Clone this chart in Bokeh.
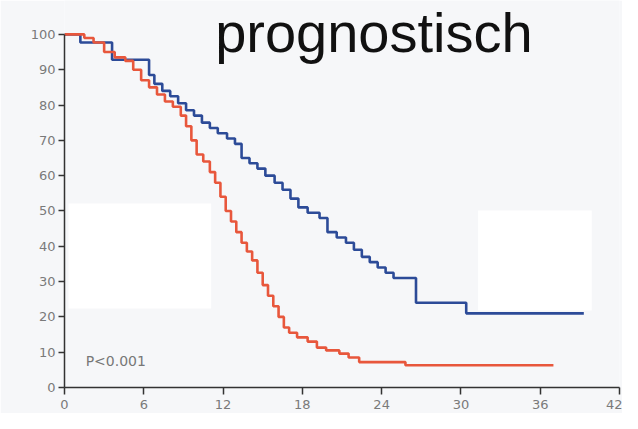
from bokeh.plotting import figure
from bokeh.models import Range1d, Label, BoxAnnotation, FixedTicker
from bokeh.embed import file_html
from bokeh.resources import INLINE

# --- data (months, % surviving) ---
blue_t = [0, 1.2, 3.6, 6.4, 6.8, 7.4, 8.0, 8.6, 9.2, 9.8, 10.4, 11.0, 11.6, 12.3, 12.9,
          13.4, 14.0, 14.6, 15.2, 15.9, 16.5, 17.1, 17.7, 18.4, 19.3, 19.9, 20.6, 21.3,
          21.9, 22.5, 23.1, 23.7, 24.3, 24.9, 26.6, 30.4, 39.3]
blue_s = [100, 97.7, 92.8, 88.5, 86, 84, 82.5, 80.5, 78.5, 77, 75, 73.5, 72, 70.5, 69,
          65, 63.5, 62, 60, 58, 56, 53.5, 51, 49.5, 48, 44, 42.5, 41,
          39, 37, 35.5, 34, 32.5, 31, 24, 21, 21]

red_t = [0, 1.5, 2.2, 3.0, 3.8, 4.6, 5.2, 5.8, 6.4, 7.0, 7.6, 8.2, 8.8, 9.2, 9.6, 10.0,
         10.5, 11.0, 11.4, 11.8, 12.2, 12.6, 13.0, 13.4, 13.8, 14.2, 14.6, 15.0, 15.4,
         15.8, 16.2, 16.6, 17.0, 17.6, 18.4, 19.1, 19.8, 20.8, 21.5, 22.3, 25.8, 37.0]
red_s = [100, 99, 97.7, 95, 93.5, 92.5, 90, 87, 85, 83, 81, 79.5, 77, 74, 70, 66,
         64, 61, 58, 54, 50, 47, 44, 41, 38.5, 36, 32.5, 29, 26,
         23, 20, 17, 15.5, 14.2, 13, 11.3, 10.5, 9.6, 8.5, 7.2, 6.3, 6.3]

x_ticks = [0, 6, 12, 18, 24, 30, 36, 42]
y_ticks = [0, 10, 20, 30, 40, 50, 60, 70, 80, 90, 100]

title_text = "prognostisch"
p_text = "P<0.001"

BG = "#f6f7f9"

p = figure(width=622, height=413, output_backend="svg", toolbar_location=None,
           x_range=Range1d(0, 42), y_range=Range1d(0, 109.6),
           min_border_left=64, min_border_right=3, min_border_top=0, min_border_bottom=26)
p.background_fill_color = BG
p.border_fill_color = BG
p.outline_line_color = None
p.xgrid.visible = False
p.ygrid.visible = False

# white patches behind the curves
for l, r, b, t in [(0.3, 11.1, 22.4, 52.1), (31.3, 39.9, 21.8, 50.1)]:
    p.add_layout(BoxAnnotation(left=l, right=r, bottom=b, top=t, fill_color="white",
                               fill_alpha=1, line_color=None, level="underlay"))

p.step(blue_t, blue_s, mode="after", line_color="#2c4b98", line_width=2.6)
p.step(red_t, red_s, mode="after", line_color="#e8573c", line_width=2.6)

for ax, ticks in ((p.xaxis, x_ticks), (p.yaxis, y_ticks)):
    ax.ticker = FixedTicker(ticks=ticks)
    ax.axis_line_color = "#333333"
    ax.axis_line_width = 1.5
    ax.major_tick_line_color = "#333333"
    ax.major_tick_line_width = 1.5
    ax.major_tick_out = 6
    ax.major_tick_in = 0
    ax.minor_tick_line_color = None
    ax.major_label_text_color = "#7a7a7a"
    ax.major_label_text_font = "DejaVu Sans"
    ax.major_label_text_font_size = "13px"
p.yaxis.bounds = (0, 100)
p.yaxis.major_label_standoff = 3
p.xaxis.major_tick_out = 7
p.xaxis.major_label_standoff = 5

p.add_layout(Label(x=11.4, y=100.6, text=title_text, text_font="Liberation Sans",
                   text_font_size="56px", text_color="#111111", text_baseline="alphabetic"))
p.add_layout(Label(x=1.6, y=7.6, text=p_text, text_font="DejaVu Sans",
                   text_font_size="14px", text_color="#777777", text_baseline="middle"))

open("out.html", "w").write(file_html(p, INLINE))
